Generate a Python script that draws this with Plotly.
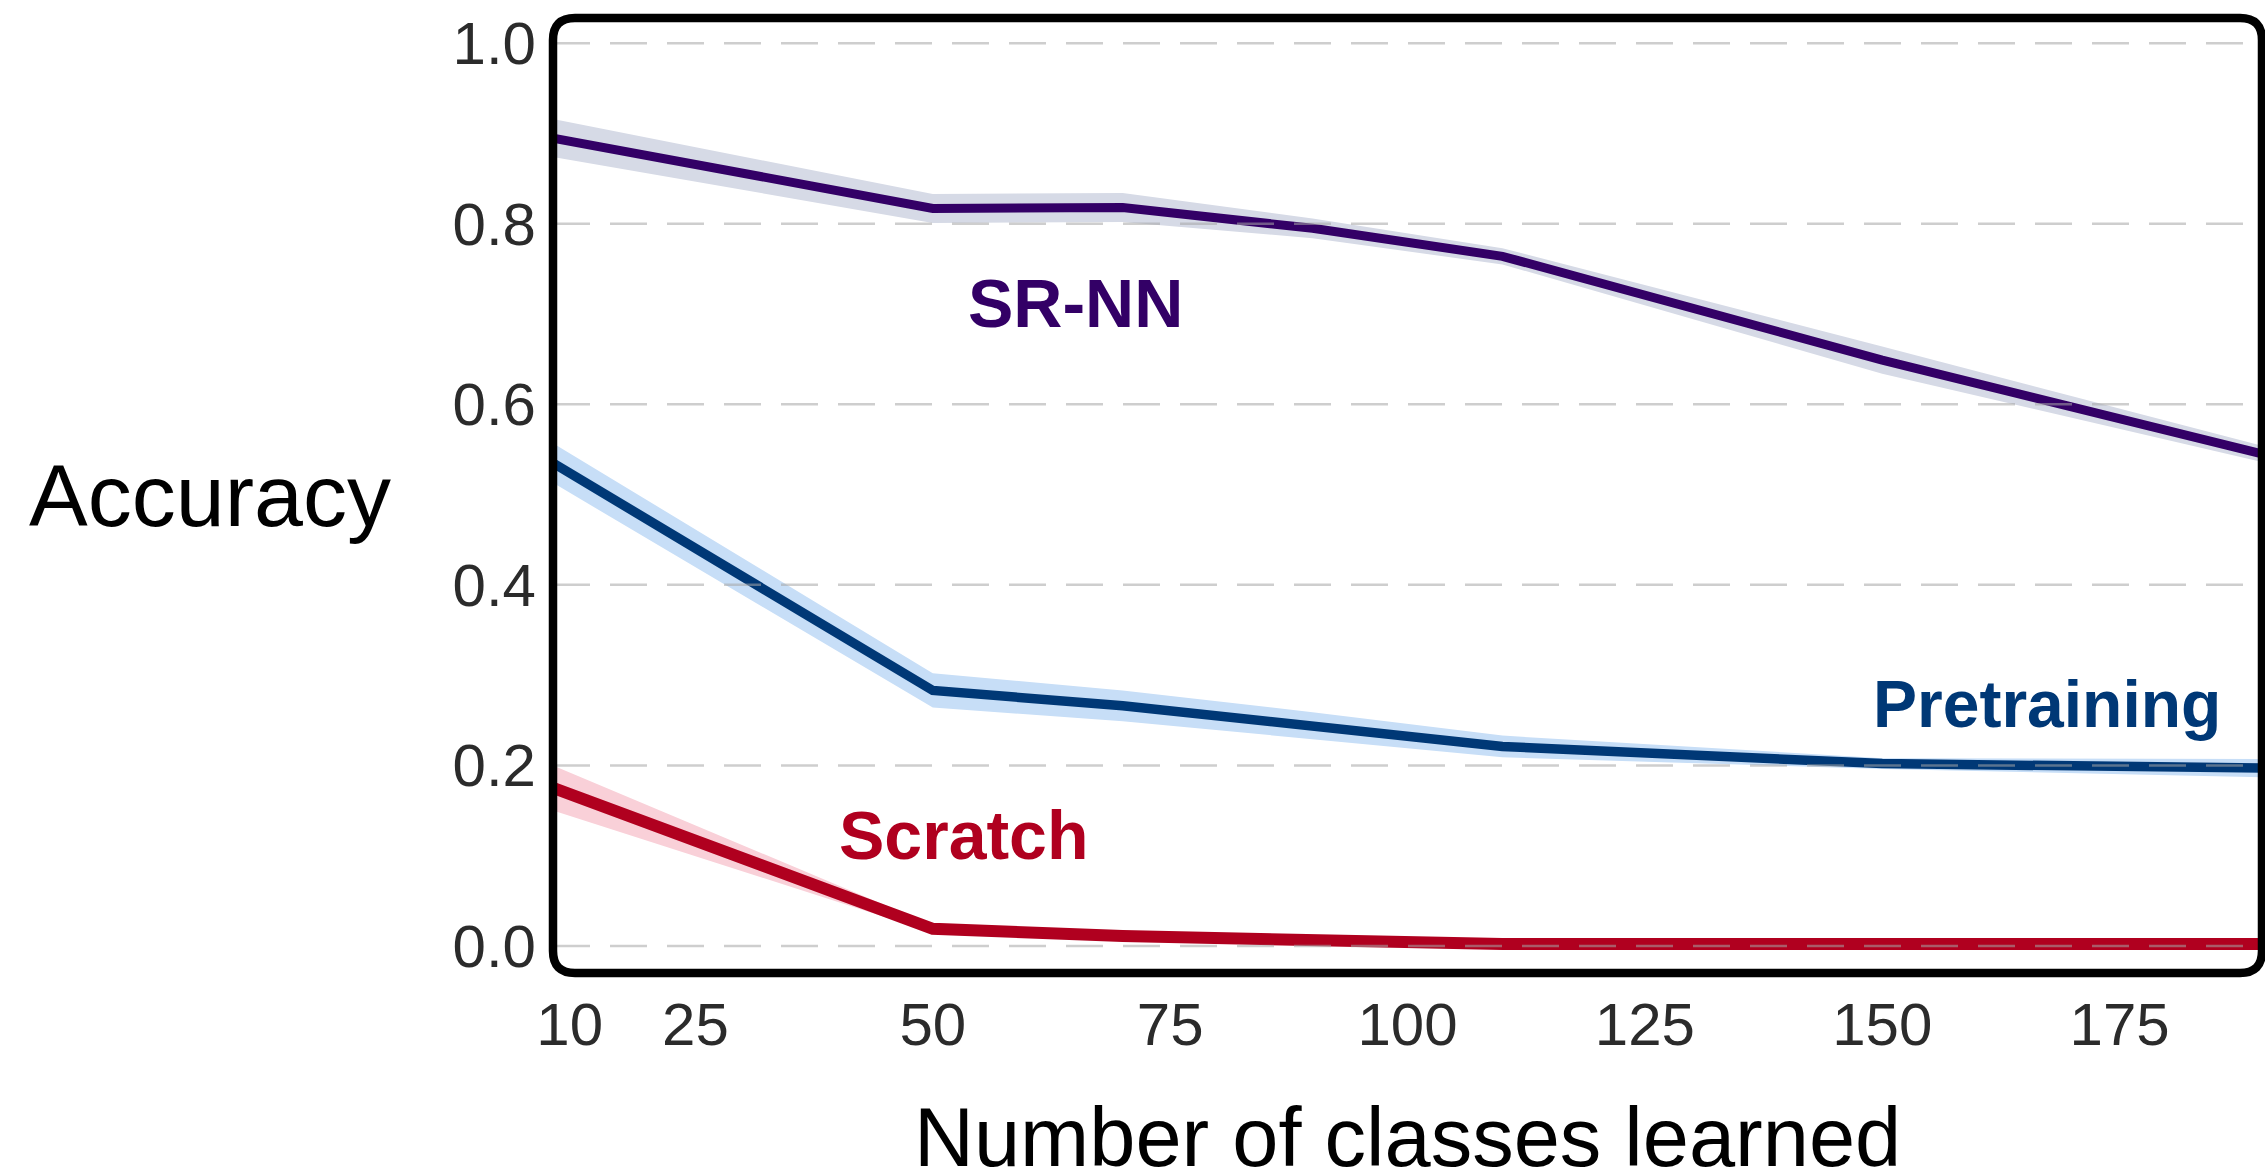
import plotly.graph_objects as go

# Number of classes learned (x) and accuracy for each training regime
classes = [10, 50, 70, 90, 110, 150, 190]

sr_nn = [0.895, 0.817, 0.818, 0.795, 0.764, 0.649, 0.545]
sr_nn_spread = [0.021, 0.016, 0.016, 0.011, 0.009, 0.015, 0.009]

pretraining = [0.535, 0.283, 0.266, 0.244, 0.221, 0.202, 0.197]
pretraining_spread = [0.022, 0.019, 0.017, 0.015, 0.012, 0.006, 0.010]

scratch = [0.175, 0.019, 0.011, 0.006, 0.002, 0.002, 0.002]
scratch_spread = [0.025, 0.004, 0.003, 0.002, 0.002, 0.002, 0.003]

x_ticks = [10, 25, 50, 75, 100, 125, 150, 175]
y_ticks = [0.0, 0.2, 0.4, 0.6, 0.8, 1.0]

series = [
    ("Scratch", scratch, scratch_spread, "#b0001f", "#f9d0d8", 12),
    ("Pretraining", pretraining, pretraining_spread, "#003876", "#c7def7", 9.5),
    ("SR-NN", sr_nn, sr_nn_spread, "#330066", "#d6dae6", 9),
]

W, H = 2265, 1172
M_L, M_R, M_T, M_B = 553, 3, 18, 199
PW, PH = W - M_L - M_R, H - M_T - M_B

fig = go.Figure()

# shaded spread bands (lower edge, then upper edge filled down to it)
for name, vals, spread, line_c, band_c, lw in series:
    lo = [v - s for v, s in zip(vals, spread)]
    hi = [v + s for v, s in zip(vals, spread)]
    fig.add_trace(go.Scatter(x=classes, y=lo, mode="lines",
                             line=dict(width=0, color=band_c),
                             hoverinfo="skip", showlegend=False))
    fig.add_trace(go.Scatter(x=classes, y=hi, mode="lines",
                             line=dict(width=0, color=band_c),
                             fill="tonexty", fillcolor=band_c,
                             hoverinfo="skip", showlegend=False))

# mean accuracy lines
for name, vals, spread, line_c, band_c, lw in series:
    fig.add_trace(go.Scatter(x=classes, y=vals, mode="lines", name=name,
                             line=dict(color=line_c, width=lw),
                             showlegend=False))

# dashed horizontal grid drawn over the traces
shapes = []
for v in y_ticks:
    shapes.append(dict(type="line", xref="paper", yref="y", x0=0, x1=1,
                       y0=v, y1=v, layer="above",
                       line=dict(color="rgba(165,165,165,0.55)", width=2.5,
                                 dash="37px,20px")))

# rounded frame around the plotting area
rx, ry = 22 / PW, 22 / PH
frame = (f"M {rx},0 L {1-rx},0 Q 1,0 1,{ry} L 1,{1-ry} Q 1,1 {1-rx},1 "
         f"L {rx},1 Q 0,1 0,{1-ry} L 0,{ry} Q 0,0 {rx},0 Z")
shapes.append(dict(type="path", xref="paper", yref="paper", path=frame,
                   layer="above", line=dict(color="black", width=8.5)))

label_font = "Liberation Sans, Arial, sans-serif"
annotations = [
    dict(text="<b>SR-NN</b>", x=65, y=0.712, xref="x", yref="y",
         showarrow=False, font=dict(family=label_font, size=68, color="#330066")),
    dict(text="<b>Pretraining</b>", x=167.4, y=0.268, xref="x", yref="y",
         showarrow=False, font=dict(family=label_font, size=66, color="#003876")),
    dict(text="<b>Scratch</b>", x=53.2, y=0.123, xref="x", yref="y",
         showarrow=False, font=dict(family=label_font, size=68, color="#b0001f")),
    dict(text="Accuracy", x=0, y=0.5, xref="paper", yref="paper",
         xanchor="right", yanchor="middle", xshift=-160, showarrow=False,
         font=dict(family=label_font, size=88, color="black")),
    dict(text="Number of classes learned", x=0.5, y=0, xref="paper", yref="paper",
         xanchor="center", yanchor="middle", yshift=-164, showarrow=False,
         font=dict(family=label_font, size=83, color="black")),
]

x_labels = [str(t) for t in x_ticks]
x_labels[0] = "\u00a0\u00a010"

fig.update_layout(
    width=W, height=H,
    margin=dict(l=M_L, r=M_R, t=M_T, b=M_B, pad=0),
    paper_bgcolor="white", plot_bgcolor="white",
    shapes=shapes, annotations=annotations,
    showlegend=False,
)
fig.update_xaxes(range=[10, 190], tickvals=x_ticks, ticktext=x_labels,
                 showgrid=False, zeroline=False, showline=False, ticks="",
                 ticklabelstandoff=11,
                 tickfont=dict(family=label_font, size=60, color="#2b2b2b"))
fig.update_yaxes(range=[-0.03, 1.028], tickvals=y_ticks, tickformat=".1f",
                 showgrid=False, zeroline=False, showline=False, ticks="",
                 ticklabelstandoff=16,
                 tickfont=dict(family=label_font, size=60, color="#2b2b2b"))

fig.write_html("out.html")
